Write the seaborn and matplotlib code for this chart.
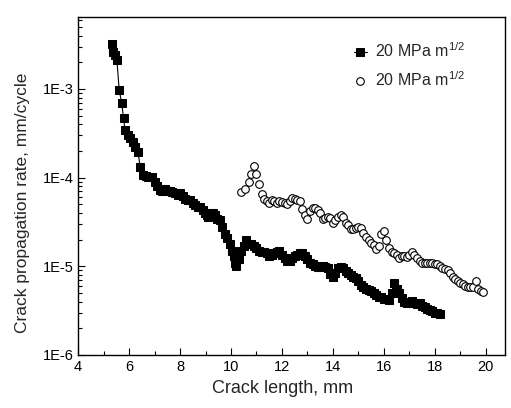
import matplotlib
matplotlib.use("Agg")
import matplotlib.pyplot as plt
import matplotlib.ticker as mticker
import numpy as np
import pandas as pd
import seaborn as sns

# filled squares: crack length (mm), rate (mm/cycle)
sq_length = [5.32, 5.37, 5.45, 5.52, 5.61, 5.71, 5.78, 5.84, 5.95, 6.04, 6.16, 6.25,
             6.35, 6.43, 6.55, 6.65, 6.75, 6.9, 7.0, 7.1, 7.22, 7.3, 7.41, 7.5,
             7.61, 7.7, 7.8, 7.9, 8.0, 8.1, 8.2, 8.3, 8.39, 8.5, 8.59, 8.7,
             8.78, 8.9, 8.98, 9.05, 9.1, 9.18, 9.3, 9.37, 9.45, 9.57, 9.65, 9.76,
             9.85, 9.96, 10.05, 10.1, 10.15, 10.2, 10.3, 10.4, 10.5, 10.6, 10.7, 10.8,
             10.9, 11.0, 11.1, 11.2, 11.3, 11.4, 11.5, 11.6, 11.7, 11.8, 11.9, 12.0,
             12.1, 12.2, 12.3, 12.4, 12.5, 12.6, 12.7, 12.8, 12.9, 13.0, 13.1, 13.2,
             13.3, 13.4, 13.5, 13.6, 13.7, 13.8, 13.9, 14.0, 14.1, 14.2, 14.3, 14.4,
             14.5, 14.6, 14.7, 14.8, 14.9, 15.0, 15.1, 15.2, 15.3, 15.4, 15.5, 15.6,
             15.7, 15.8, 15.9, 16.0, 16.1, 16.2, 16.3, 16.4, 16.5, 16.6, 16.7, 16.8,
             16.9, 17.0, 17.1, 17.2, 17.3, 17.4, 17.5, 17.6, 17.7, 17.8, 17.9, 18.0,
             18.1, 18.2]
sq_rate = [3.2e-3, 2.6e-3, 2.4e-3, 2.1e-3, 9.7e-4, 6.9e-4, 4.7e-4, 3.4e-4, 3.0e-4, 2.8e-4, 2.5e-4, 2.2e-4,
           1.95e-4, 1.32e-4, 1.07e-4, 1.05e-4, 1.02e-4, 1.02e-4, 9.0e-5, 8.0e-5, 7.2e-5, 7.0e-5, 7.4e-5, 7.0e-5,
           7.0e-5, 6.8e-5, 6.7e-5, 6.4e-5, 6.7e-5, 6.2e-5, 5.8e-5, 5.6e-5, 5.6e-5, 5.2e-5, 4.9e-5, 4.7e-5,
           4.7e-5, 4.3e-5, 4.0e-5, 3.8e-5, 3.6e-5, 4.0e-5, 4.0e-5, 3.8e-5, 3.4e-5, 3.3e-5, 2.8e-5, 2.3e-5,
           2.1e-5, 1.8e-5, 1.5e-5, 1.3e-5, 1.1e-5, 1.0e-5, 1.2e-5, 1.5e-5, 1.7e-5, 2.0e-5, 1.8e-5, 1.8e-5,
           1.7e-5, 1.6e-5, 1.5e-5, 1.45e-5, 1.45e-5, 1.4e-5, 1.3e-5, 1.35e-5, 1.4e-5, 1.45e-5, 1.5e-5, 1.35e-5,
           1.25e-5, 1.15e-5, 1.15e-5, 1.25e-5, 1.3e-5, 1.35e-5, 1.4e-5, 1.4e-5, 1.3e-5, 1.2e-5, 1.1e-5, 1.05e-5,
           1.0e-5, 9.8e-6, 9.8e-6, 1.0e-5, 9.8e-6, 9.6e-6, 8.2e-6, 7.6e-6, 8.5e-6, 9.5e-6, 9.8e-6, 9.5e-6,
           8.8e-6, 8.4e-6, 8.0e-6, 7.6e-6, 7.4e-6, 6.8e-6, 6.2e-6, 5.8e-6, 5.6e-6, 5.4e-6, 5.2e-6, 5.0e-6,
           4.7e-6, 4.5e-6, 4.5e-6, 4.3e-6, 4.3e-6, 4.2e-6, 5.0e-6, 6.5e-6, 5.5e-6, 5.0e-6, 4.4e-6, 4.0e-6,
           3.9e-6, 4.0e-6, 4.1e-6, 3.9e-6, 3.8e-6, 3.9e-6, 3.6e-6, 3.5e-6, 3.3e-6, 3.2e-6, 3.1e-6, 3.0e-6,
           3.0e-6, 2.9e-6]

# open circles
ci_length = [10.4, 10.55, 10.7, 10.8, 10.9, 11.0, 11.1, 11.2, 11.3, 11.4, 11.5, 11.6,
             11.7, 11.8, 11.9, 12.0, 12.1, 12.2, 12.3, 12.4, 12.5, 12.6, 12.7, 12.8,
             12.9, 13.0, 13.1, 13.2, 13.3, 13.4, 13.5, 13.6, 13.7, 13.8, 13.9, 14.0,
             14.1, 14.2, 14.3, 14.4, 14.5, 14.6, 14.7, 14.8, 14.9, 15.0, 15.1, 15.2,
             15.3, 15.4, 15.5, 15.6, 15.7, 15.8, 15.9, 16.0, 16.1, 16.2, 16.3, 16.4,
             16.5, 16.6, 16.7, 16.8, 16.9, 17.0, 17.1, 17.2, 17.3, 17.4, 17.5, 17.6,
             17.7, 17.8, 17.9, 18.0, 18.1, 18.2, 18.3, 18.4, 18.5, 18.6, 18.7, 18.8,
             18.9, 19.0, 19.1, 19.2, 19.3, 19.4, 19.5, 19.6, 19.7, 19.8, 19.9]
ci_rate = [6.8e-5, 7.5e-5, 9.0e-5, 1.1e-4, 1.35e-4, 1.1e-4, 8.5e-5, 6.5e-5, 5.8e-5, 5.4e-5, 5.2e-5, 5.6e-5,
           5.4e-5, 5.2e-5, 5.4e-5, 5.3e-5, 5.2e-5, 5.0e-5, 5.4e-5, 5.9e-5, 5.8e-5, 5.6e-5, 5.5e-5, 4.4e-5,
           3.8e-5, 3.4e-5, 4.2e-5, 4.6e-5, 4.6e-5, 4.3e-5, 4.0e-5, 3.4e-5, 3.5e-5, 3.6e-5, 3.5e-5, 3.1e-5,
           3.3e-5, 3.6e-5, 3.8e-5, 3.6e-5, 3.1e-5, 2.9e-5, 2.6e-5, 2.6e-5, 2.7e-5, 2.8e-5, 2.7e-5, 2.4e-5,
           2.15e-5, 2.0e-5, 1.85e-5, 1.75e-5, 1.55e-5, 1.7e-5, 2.3e-5, 2.5e-5, 2.0e-5, 1.6e-5, 1.45e-5, 1.4e-5,
           1.35e-5, 1.25e-5, 1.3e-5, 1.3e-5, 1.27e-5, 1.35e-5, 1.45e-5, 1.35e-5, 1.25e-5, 1.15e-5, 1.1e-5, 1.1e-5,
           1.08e-5, 1.1e-5, 1.1e-5, 1.05e-5, 1.05e-5, 1.0e-5, 9.5e-6, 9.3e-6, 9.0e-6, 8.3e-6, 7.6e-6, 7.2e-6,
           6.8e-6, 6.5e-6, 6.3e-6, 6.0e-6, 5.8e-6, 5.8e-6, 5.9e-6, 6.8e-6, 5.6e-6, 5.3e-6, 5.1e-6]

series_label = "20 MPa m$^{1/2}$"

sns.set_style("ticks")
plt.rcParams['font.family'] = ['Liberation Sans', 'DejaVu Sans']
plt.rcParams['mathtext.fontset'] = 'custom'
plt.rcParams['mathtext.rm'] = 'Liberation Sans'

fig = plt.figure(figsize=(5.11, 4.08), dpi=100)
ax = fig.add_axes([0.153, 0.130, 0.835, 0.828])

squares = pd.DataFrame({"length": sq_length, "rate": sq_rate})
circles = pd.DataFrame({"length": ci_length, "rate": ci_rate})

sns.lineplot(data=squares, x="length", y="rate", ax=ax, color="black", lw=0.8,
             marker="s", markersize=6, markeredgecolor="black", markerfacecolor="black",
             label=series_label, sort=False)
sns.lineplot(data=circles, x="length", y="rate", ax=ax, color="black", lw=0,
             marker="o", markersize=5.5, markeredgecolor="black", markerfacecolor="white",
             markeredgewidth=0.8, label=series_label, sort=False)

ax.set_yscale("log")
ax.set_xlim(4, 20.75)
ax.set_ylim(1e-6, 6.45e-3)

ax.xaxis.set_major_locator(mticker.MultipleLocator(2))
ax.xaxis.set_minor_locator(mticker.MultipleLocator(1))
ax.yaxis.set_major_locator(mticker.FixedLocator([1e-6, 1e-5, 1e-4, 1e-3]))
ax.yaxis.set_major_formatter(mticker.FuncFormatter(lambda v, p: "1E%d" % round(np.log10(v))))
ax.yaxis.set_minor_locator(mticker.LogLocator(base=10, subs=np.arange(2, 10)))
ax.yaxis.set_minor_formatter(mticker.NullFormatter())

ax.tick_params(which="both", direction="in", labelsize=10.5, width=0.8, colors="black")
ax.tick_params(which="major", length=5)
ax.tick_params(which="minor", length=3)
for s in ax.spines.values():
    s.set_linewidth(1.0)
    s.set_color("black")

ax.set_xlabel("Crack length, mm", fontsize=13)
ax.set_ylabel("Crack propagation rate, mm/cycle", fontsize=12.5)
ax.xaxis.set_label_coords(0.478, -0.073)
ax.yaxis.set_label_coords(-0.112, 0.45)

ax.legend(loc="upper right", bbox_to_anchor=(0.94, 0.97), frameon=False, fontsize=11.5,
          handlelength=0.8, handletextpad=0.5, labelspacing=0.65)

fig.savefig("out.png", dpi=100)
